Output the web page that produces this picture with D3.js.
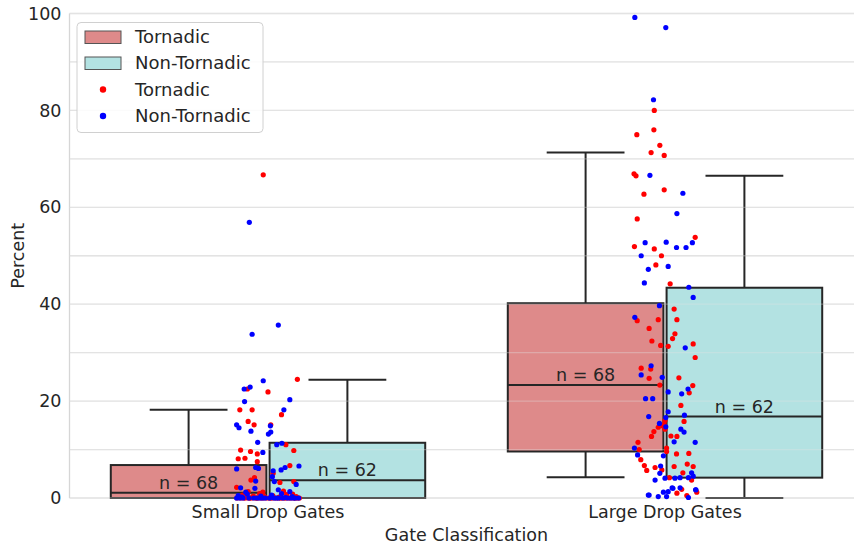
<!DOCTYPE html>
<html>
<head>
<meta charset="utf-8">
<script src="https://cdn.jsdelivr.net/npm/d3@7"></script>
<style>
  html, body { margin: 0; padding: 0; background: #ffffff; }
  svg { display: block; font-family: "DejaVu Sans", sans-serif; }
</style>
</head>
<body>
<svg id="chart" width="854" height="544"></svg>
<script>
// Categories and hue levels
const categories = ["Small Drop Gates", "Large Drop Gates"];
const hues = ["Tornadic", "Non-Tornadic"];
const yTicks = [0, 20, 40, 60, 80, 100];
const gridValues = [0, 10, 20, 30, 40, 50, 60, 70, 80, 90, 100];

// Box statistics per hue, one row per category: [whiskerLow, q1, median, q3, whiskerHigh]
const boxTornadic = [[0, 0, 1.1, 6.8, 18.2], [4.3, 9.6, 23.3, 40.2, 71.3]];
const boxNonTornadic = [[0, 0, 3.65, 11.4, 24.4], [0, 4.2, 16.8, 43.4, 66.5]];

// Strip points: [percent, jitter (fraction of category width)]
const smallTornadic = [
  [66.7,-0.012],[24.5,0.074],[22.5,-0.052],[21.9,0.0],[18.2,-0.071],[18.2,-0.040],[17.2,0.034],
  [15.8,-0.050],[15.1,-0.035],[15.1,0.007],[11.0,0.045],[9.9,-0.069],[9.6,-0.044],[9.1,-0.027],
  [9.8,0.065],[8.1,-0.075],[8.2,-0.058],[7.5,-0.027],[6.7,0.055],[5.1,0.013],[4.2,-0.034],
  [3.7,-0.043],[3.2,0.030],[3.4,0.065],[2.2,-0.079],[1.3,-0.050],[1.4,0.039],[1.2,-0.013],
  [0.8,0.062],[0.9,-0.021],[0.7,0.047],[0.6,-0.064],[0.5,0.012],[0.4,-0.037],[0.3,0.071],
  [0.3,-0.009],[0.2,0.028],[0.2,-0.055],[0.1,0.063],[0.1,-0.073],[0,-0.078],[0,-0.061],
  [0,-0.049],[0,-0.042],[0,-0.033],[0,-0.026],[0,-0.018],[0,-0.004],[0,0.003],[0,0.011],
  [0,0.019],[0,0.026],[0,0.035],[0,0.041],[0,0.052],[0,0.058],[0,0.066],[0,0.074],[0,0.079],
  [0,-0.069],[0,-0.012],[0,0.031],[0,0.045],[0,-0.057],[0,0.006],[0,-0.029],[0,0.068],[0,-0.046]
];
const smallNonTornadic = [
  [56.9,-0.047],[35.7,0.026],[33.8,-0.040],[24.2,-0.012],[22.5,-0.060],[22.9,-0.045],[19.9,-0.059],
  [20.3,0.055],[18.2,0.040],[15.1,-0.079],[14.5,-0.073],[14.9,0.006],[13.8,-0.043],[13.6,0.007],
  [13.2,0.001],[11.5,-0.026],[11.0,0.022],[11.3,0.035],[9.4,-0.013],[6.3,-0.031],[6.1,-0.024],
  [6.0,-0.079],[6.6,0.078],[6.3,0.043],[5.8,0.033],[5.6,0.013],[4.4,0.011],[3.5,-0.031],
  [3.4,0.016],[2.8,0.071],[2.1,-0.069],[2.0,-0.033],[1.2,-0.056],[1.7,0.026],[1.3,0.055],
  [0.5,-0.075],[0.9,0.034],[0.8,-0.052],[0.6,0.009],[0.4,-0.018],[0.3,0.061],[0.2,-0.066],
  [0.1,0.044],[0,-0.079],[0,-0.063],[0,-0.048],[0,-0.036],[0,-0.021],[0,-0.007],[0,0.004],
  [0,0.015],[0,0.027],[0,0.038],[0,0.049],[0,0.057],[0,0.069],[0,0.077],[0,-0.028],[0,0.021],
  [0,-0.071],[0,0.064],[0,-0.014]
];
const largeTornadic = [
  [80.0,-0.027],[75.0,-0.071],[76.0,-0.028],[72.8,-0.013],[71.3,-0.035],[70.7,-0.002],[66.9,-0.078],
  [66.5,-0.073],[62.7,-0.053],[63.6,-0.002],[57.6,-0.070],[51.9,-0.077],[51.4,-0.027],[53.8,0.076],
  [50.0,-0.009],[48.1,-0.023],[44.2,0.013],[39.0,0.023],[36.6,-0.070],[36.8,-0.017],[36.8,0.030],
  [35.0,-0.040],[33.9,0.025],[32.9,0.019],[32.4,-0.033],[31.5,-0.011],[31.3,0.008],[31.8,0.071],
  [29.0,0.076],[26.8,-0.060],[26.6,-0.036],[24.7,-0.040],[24.8,0.035],[23.3,-0.013],[23.2,0.070],
  [21.7,0.061],[19.1,0.040],[16.0,0.0],[15.8,0.048],[15.2,-0.002],[14.9,-0.006],[14.6,-0.017],
  [14.2,0.0],[13.7,-0.028],[12.7,-0.034],[12.8,0.015],[12.7,0.030],[11.5,-0.068],[10.0,-0.065],
  [10.3,0.004],[9.6,0.004],[9.1,0.029],[9.2,0.060],[7.9,-0.061],[6.7,-0.052],[6.3,-0.025],
  [5.7,-0.046],[6.5,0.023],[7.0,0.056],[6.5,0.071],[5.8,-0.008],[5.2,0.045],[4.2,0.011],
  [3.7,0.067],[1.8,0.042],[1.0,0.030],[1.2,0.080],[0.5,0.055]
];
const largeNonTornadic = [
  [99.2,-0.076],[97.1,0.002],[82.2,-0.029],[66.6,-0.038],[62.9,0.045],[58.7,0.030],[52.7,-0.050],
  [52.8,0.003],[51.7,0.029],[51.7,0.053],[52.7,0.069],[50.0,-0.060],[47.2,-0.042],[47.8,0.008],
  [44.4,-0.052],[43.5,0.060],[41.4,0.071],[39.7,-0.014],[37.3,-0.076],[31.0,0.051],[27.3,-0.035],
  [25.4,-0.060],[24.9,-0.007],[22.5,0.058],[21.9,0.008],[21.5,0.042],[20.5,-0.049],[20.5,-0.031],
  [17.8,0.008],[17.1,0.049],[16.8,-0.041],[16.6,0.002],[15.4,-0.014],[14.7,0.002],[14.2,0.040],
  [13.6,0.048],[11.6,0.023],[11.5,0.076],[10.3,-0.077],[8.9,-0.069],[8.7,-0.004],[6.6,-0.011],
  [5.1,-0.013],[5.2,0.067],[4.5,0.071],[4.2,0.059],[4.1,0.0],[4.1,0.025],[4.2,0.038],
  [3.7,-0.025],[2.1,0.018],[2.1,0.038],[1.2,-0.004],[1.3,0.008],[1.7,0.077],[0.6,-0.042],
  [0.3,-0.017],[0.1,0.059],[0.3,0.004],[0.6,-0.040],[2.0,0.020],[1.7,0.078]
];

const pointsByCategory = [
  [smallTornadic, smallNonTornadic],
  [largeTornadic, largeNonTornadic]
];
const boxesByHue = [boxTornadic, boxNonTornadic];

// Styling
const boxFill = ["#de8a8a", "#b3e2e2"];
const dotFill = ["#ff0000", "#0000ff"];
const lineColor = "#262626";
const textColor = "#262626";
const fontSize = 17.5;
const lineWidth = 2;

const svg = d3.select("#chart");
const plot = { left: 69.5, right: 863.5, top: 13.5, bottom: 498 };

const x = d3.scaleBand().domain(categories).range([plot.left, plot.right]).padding(0);
const y = d3.scaleLinear().domain([0, 100]).range([plot.bottom, plot.top]);
const hueOffset = d3.scaleBand().domain(hues).range([-0.4, 0.4]);
const boxWidth = x.bandwidth() * 0.4 * 0.98;
const center = c => x(c) + x.bandwidth() / 2;
const hueCenter = (c, h) => center(c) + (hueOffset(h) + hueOffset.bandwidth() / 2) * x.bandwidth();

// Grid
const drawGrid = (g, opacity) => g.selectAll("line").data(gridValues).join("line")
  .attr("x1", plot.left).attr("x2", plot.right)
  .attr("y1", d => y(d)).attr("y2", d => y(d))
  .attr("stroke", "#e3e3e3").attr("stroke-width", 1.3).attr("stroke-opacity", opacity);
drawGrid(svg.append("g"), 1);

// Left spine
svg.append("line").attr("x1", plot.left).attr("x2", plot.left)
  .attr("y1", plot.top).attr("y2", plot.bottom)
  .attr("stroke", "#d6d6d6").attr("stroke-width", 1.3);

// Y axis tick labels
const yAxis = d3.axisLeft(y).tickValues(yTicks).tickSize(0).tickPadding(8).tickFormat(d3.format("d"));
const gy = svg.append("g").attr("transform", `translate(${plot.left},0)`).call(yAxis);
gy.select(".domain").remove();
gy.selectAll("text").attr("font-size", fontSize).attr("fill", textColor)
  .attr("font-family", "DejaVu Sans, sans-serif");

// X axis tick labels
const xAxis = d3.axisBottom(x).tickSize(0).tickPadding(8);
const gx = svg.append("g").attr("transform", `translate(0,${plot.bottom})`).call(xAxis);
gx.select(".domain").remove();
gx.selectAll("text").attr("font-size", fontSize).attr("fill", textColor)
  .attr("font-family", "DejaVu Sans, sans-serif");

// Axis titles
svg.append("text").attr("x", (plot.left + plot.right) / 2).attr("y", 541)
  .attr("text-anchor", "middle").attr("font-size", fontSize).attr("fill", textColor)
  .text("Gate Classification");
svg.append("text").attr("transform", `translate(24,${(plot.top + plot.bottom) / 2}) rotate(-90)`)
  .attr("text-anchor", "middle").attr("font-size", fontSize).attr("fill", textColor)
  .text("Percent");

// Boxes
const boxes = svg.append("g");
hues.forEach((h, hi) => {
  categories.forEach((c, ci) => {
    const [wLo, q1, med, q3, wHi] = boxesByHue[hi][ci];
    const cx = hueCenter(c, h);
    const g = boxes.append("g");
    const capHalf = boxWidth / 4;
    // whiskers
    g.append("line").attr("x1", cx).attr("x2", cx).attr("y1", y(q3)).attr("y2", y(wHi))
      .attr("stroke", lineColor).attr("stroke-width", lineWidth);
    g.append("line").attr("x1", cx).attr("x2", cx).attr("y1", y(q1)).attr("y2", y(wLo))
      .attr("stroke", lineColor).attr("stroke-width", lineWidth);
    // caps
    [wLo, wHi].forEach(v => g.append("line")
      .attr("x1", cx - capHalf).attr("x2", cx + capHalf).attr("y1", y(v)).attr("y2", y(v))
      .attr("stroke", lineColor).attr("stroke-width", lineWidth));
    // box
    g.append("rect").attr("x", cx - boxWidth / 2).attr("width", boxWidth)
      .attr("y", y(q3)).attr("height", y(q1) - y(q3))
      .attr("fill", boxFill[hi]).attr("stroke", lineColor).attr("stroke-width", lineWidth);
    // median
    g.append("line").attr("x1", cx - boxWidth / 2).attr("x2", cx + boxWidth / 2)
      .attr("y1", y(med)).attr("y2", y(med))
      .attr("stroke", lineColor).attr("stroke-width", lineWidth);
  });
});

// Faint grid over the boxes
drawGrid(svg.append("g"), 0.35);

// Count labels
const countLabels = svg.append("g");
categories.forEach((c, ci) => {
  hues.forEach((h, hi) => {
    const n = pointsByCategory[ci][hi].length;
    const med = boxesByHue[hi][ci][2];
    countLabels.append("text").attr("x", hueCenter(c, h)).attr("y", y(med) - 4)
      .attr("text-anchor", "middle").attr("font-size", fontSize).attr("fill", textColor)
      .text(`n = ${n}`);
  });
});

// Strip points
const dots = svg.append("g");
categories.forEach((c, ci) => {
  hues.forEach((h, hi) => {
    dots.append("g").selectAll("circle").data(pointsByCategory[ci][hi]).join("circle")
      .attr("cx", d => center(c) + d[1] * x.bandwidth())
      .attr("cy", d => y(d[0]))
      .attr("r", 2.6)
      .attr("fill", dotFill[hi]);
  });
});

// Legend
const legend = svg.append("g").attr("transform", "translate(77,22.5)");
legend.append("rect").attr("width", 186).attr("height", 110).attr("rx", 4)
  .attr("fill", "#ffffff").attr("fill-opacity", 0.85)
  .attr("stroke", "#d0d0d0").attr("stroke-width", 1);
const rows = [14.5, 40.5, 67, 93.5];
hues.forEach((h, hi) => {
  legend.append("rect").attr("x", 8).attr("y", rows[hi] - 6).attr("width", 36).attr("height", 12.5)
    .attr("fill", boxFill[hi]).attr("stroke", "#555555").attr("stroke-width", 1);
  legend.append("text").attr("x", 58).attr("y", rows[hi]).attr("dy", "0.35em")
    .attr("font-size", 18).attr("fill", textColor).text(h);
  legend.append("circle").attr("cx", 26).attr("cy", rows[hi + 2]).attr("r", 3.2)
    .attr("fill", dotFill[hi]);
  legend.append("text").attr("x", 58).attr("y", rows[hi + 2]).attr("dy", "0.35em")
    .attr("font-size", 18).attr("fill", textColor).text(h);
});
</script>
</body>
</html>
